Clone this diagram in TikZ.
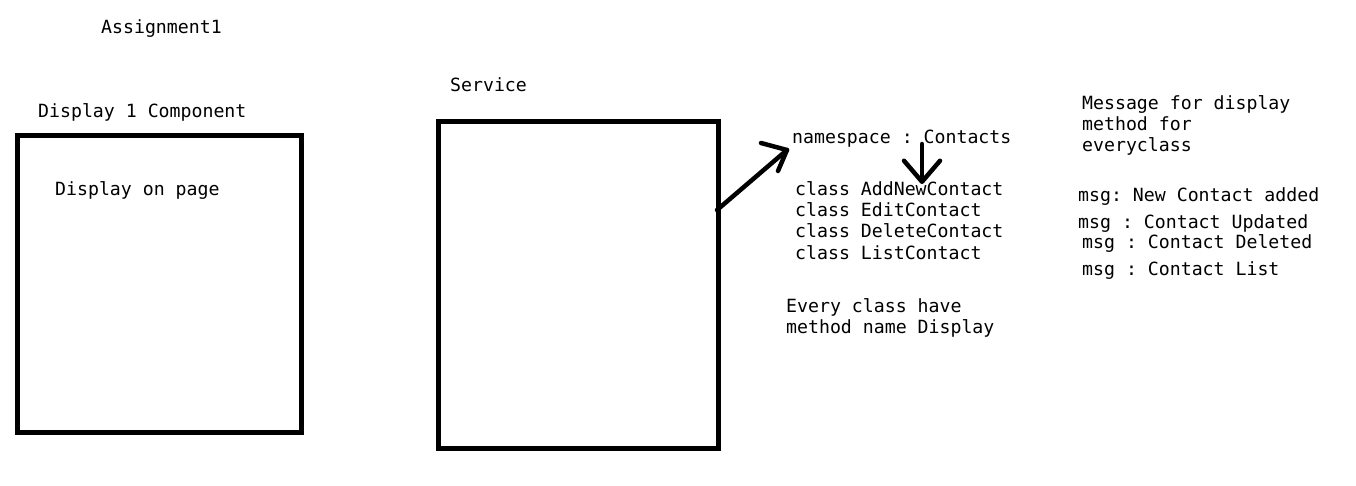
\documentclass[tikz,border=0pt]{standalone}
\usepackage{fontspec}
\setmonofont{DejaVu Sans Mono}
\usetikzlibrary{arrows.meta}
\begin{document}
\begin{tikzpicture}[x=1pt,y=-1pt,
  lbl/.style={anchor=base west,inner sep=0pt,font=\ttfamily\fontsize{18.2}{21}\selectfont},
  box/.style={draw,line width=5pt,inner sep=0pt},
  pen/.style={line width=4.5pt,line cap=round,line join=round},
  pentip/.style={pen,-{Straight Barb[length=21pt,width=36pt,line width=4.5pt,round]}}]
\useasboundingbox (0,0) rectangle (1356,486);
\fill[white] (0,0) rectangle (1356,486);
\node[box,minimum width=284pt,minimum height=297pt] (disp) at (159.5,284) {};
\node[box,minimum width=280pt,minimum height=327pt] (svc) at (578,285) {};
\node[lbl] (title) at (101,34) {Assignment1};
\node[lbl] (dispt) at (38,118) {Display 1 Component};
\node[lbl] (dpage) at (55,196) {Display on page};
\node[lbl] (svct) at (450,92) {Service};
\node[lbl] (ns) at (792,144) {namespace : Contacts};
\node[lbl] (c1) at (795,196) {class AddNewContact};
\node[lbl] (c2) at (795,217) {class EditContact};
\node[lbl] (c3) at (795,238) {class DeleteContact};
\node[lbl] (c4) at (795,259) {class ListContact};
\node[lbl] (e1) at (786,312) {Every class have};
\node[lbl] (e2) at (786,333) {method name Display};
\node[lbl] (m1) at (1082,110) {Message for display};
\node[lbl] (m2) at (1082,131) {method for};
\node[lbl] (m3) at (1082,152) {everyclass};
\node[lbl] (g1) at (1078,202) {msg: New Contact added};
\node[lbl] (g2) at (1078,229) {msg : Contact Updated};
\node[lbl] (g3) at (1082,248) {msg : Contact Deleted};
\node[lbl] (g4) at (1082,275) {msg : Contact List};
\coordinate (a0) at (717,210);
\coordinate (a1) at (787,150);
\coordinate (a2) at (761,143);
\coordinate (a3) at (778,171);
\coordinate (b0) at (922,144);
\coordinate (b1) at (922,184);
\draw[pen] (a0) -- (a1);
\draw[pen] (a2) -- (a1) -- (a3);
\draw[pentip] (b0) -- (b1);
\end{tikzpicture}
\end{document}
